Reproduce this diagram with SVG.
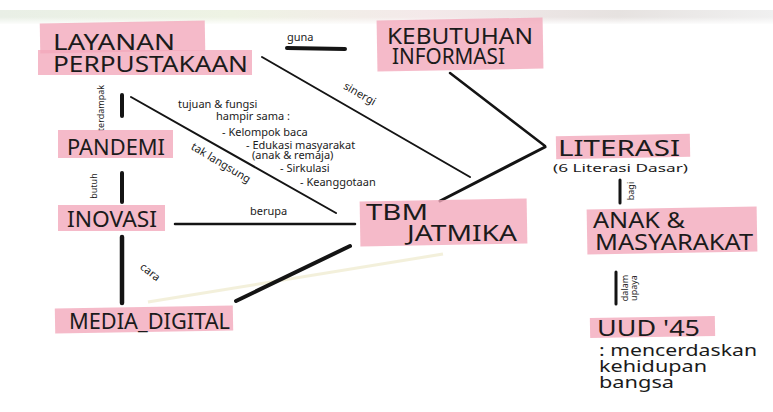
<svg xmlns="http://www.w3.org/2000/svg" width="773" height="412" viewBox="0 0 773 412">
<defs>
<linearGradient id="band" x1="0" y1="0" x2="1" y2="0">
<stop offset="0" stop-color="#e9efe6"/>
<stop offset="0.3" stop-color="#eef3e4"/>
<stop offset="0.55" stop-color="#f4e9ea"/>
<stop offset="0.8" stop-color="#e6e2e0"/>
<stop offset="1" stop-color="#f0f0f0"/>
</linearGradient>
<linearGradient id="fade" x1="0" y1="0" x2="0" y2="1">
<stop offset="0" stop-color="#fff" stop-opacity="0"/>
<stop offset="1" stop-color="#fff" stop-opacity="1"/>
</linearGradient>
</defs>
<style>
.hl{fill:#f2a9bb;opacity:0.8}
.cap{font-family:"Noto Sans","DejaVu Sans",sans-serif;fill:#1b1b1b;font-size:21px}
.sm{font-family:"Noto Sans","DejaVu Sans",sans-serif;fill:#1b1b1b;font-size:11px}
.tiny{font-family:"Noto Sans","DejaVu Sans",sans-serif;fill:#1b1b1b;font-size:9px}
.hand{font-family:"Noto Sans","DejaVu Sans",sans-serif;fill:#1b1b1b;font-size:16px}
.ln{stroke:#141414;fill:none;stroke-linecap:round}
</style>
<rect width="773" height="412" fill="#ffffff"/>
<rect x="0" y="10" width="773" height="14" fill="url(#band)"/>
<rect x="0" y="17" width="773" height="8" fill="url(#fade)"/>

<g id="connectors">
<line class="ln" x1="287" y1="48" x2="345" y2="49" stroke-width="4"/>
<line class="ln" x1="262" y1="57" x2="470" y2="177" stroke-width="2"/>
<line class="ln" x1="450" y1="73" x2="545" y2="146" stroke-width="2.5"/>
<line class="ln" x1="440" y1="201" x2="545" y2="147" stroke-width="3"/>
<line class="ln" x1="122" y1="95" x2="122" y2="116" stroke-width="4"/>
<line class="ln" x1="131" y1="97" x2="336" y2="213" stroke-width="2"/>
<line class="ln" x1="122" y1="173" x2="122" y2="202" stroke-width="4"/>
<line class="ln" x1="175" y1="224" x2="355" y2="224" stroke-width="2.5"/>
<line class="ln" x1="122" y1="237" x2="122" y2="303" stroke-width="4.5"/>
<line x1="148" y1="302" x2="443" y2="254" stroke="#ece7c4" stroke-width="3" opacity="0.6"/>
<line class="ln" x1="236" y1="301" x2="350" y2="246" stroke-width="4"/>
<line class="ln" x1="620" y1="180" x2="620" y2="203" stroke-width="3"/>
<line class="ln" x1="616" y1="272" x2="616" y2="304" stroke-width="3"/>
<text class="sm" x="287" y="41" font-size="13">guna</text>
<text class="sm" transform="translate(358,97) rotate(30)" text-anchor="middle">sinergi</text>
<text class="tiny" transform="translate(104,108) rotate(-90)" text-anchor="middle">terdampak</text>
<text class="tiny" transform="translate(97,186) rotate(-90)" text-anchor="middle" font-size="10">butuh</text>
<text class="sm" transform="translate(219,166) rotate(31)" text-anchor="middle">tak langsung</text>
<text class="sm" x="250" y="215" font-size="12.5">berupa</text>
<text class="sm" transform="translate(148,275) rotate(38)" text-anchor="middle" font-size="10">cara</text>
<text class="tiny" transform="translate(634,191) rotate(-90)" text-anchor="middle" font-size="8">bagi</text>
<text class="tiny" transform="translate(628,288) rotate(-90)" text-anchor="middle" font-size="7.5">dalam</text>
<text class="tiny" transform="translate(637,288) rotate(-90)" text-anchor="middle" font-size="7.5">upaya</text>
</g>

<g id="layanan">
<rect class="hl" x="40" y="22" width="165" height="30" transform="rotate(-1 120 37)"/>
<rect class="hl" x="38" y="50" width="214" height="25"/>
<text class="cap" x="53" y="50" font-size="23" textLength="122" lengthAdjust="spacingAndGlyphs">LAYANAN</text>
<text class="cap" x="53" y="72" font-size="23" textLength="195" lengthAdjust="spacingAndGlyphs">PERPUSTAKAAN</text>
</g>

<g id="kebutuhan">
<rect class="hl" x="377" y="19" width="166" height="51" transform="rotate(-1 460 44)"/>
<text class="cap" x="387" y="44" font-size="20" textLength="146" lengthAdjust="spacingAndGlyphs">KEBUTUHAN</text>
<text class="cap" x="392" y="64" font-size="20" textLength="113" lengthAdjust="spacingAndGlyphs">INFORMASI</text>
</g>

<g id="tujuan">
<text class="sm" x="178" y="108">tujuan &amp; fungsi</text>
<text class="sm" x="216" y="120">hampir sama :</text>
<text class="sm" x="222" y="136">- Kelompok baca</text>
<text class="sm" x="246" y="149">- Edukasi masyarakat</text>
<text class="sm" x="252" y="159" font-size="9">(anak &amp; remaja)</text>
<text class="sm" x="280" y="172">- Sirkulasi</text>
<text class="sm" x="300" y="186">- Keanggotaan</text>
</g>

<g id="pandemi">
<rect class="hl" x="58" y="130" width="115" height="28"/>
<text class="cap" x="67" y="155" textLength="98" lengthAdjust="spacingAndGlyphs">PANDEMI</text>
</g>

<g id="inovasi">
<rect class="hl" x="58" y="205" width="107" height="26"/>
<text class="cap" x="67" y="227" textLength="90" lengthAdjust="spacingAndGlyphs">INOVASI</text>
</g>

<g id="media-digital">
<rect class="hl" x="55" y="307" width="178" height="25" transform="rotate(-1 144 320)"/>
<text class="cap" x="69" y="329" font-size="17" textLength="161" lengthAdjust="spacingAndGlyphs">MEDIA_DIGITAL</text>
</g>

<g id="tbm">
<rect class="hl" x="360" y="200" width="167" height="45" transform="rotate(-1 443 222)"/>
<text class="cap" x="366" y="220" textLength="62" lengthAdjust="spacingAndGlyphs">TBM</text>
<text class="cap" x="407" y="241" textLength="110" lengthAdjust="spacingAndGlyphs">JATMIKA</text>
</g>

<g id="literasi">
<rect class="hl" x="556" y="135" width="134" height="23" transform="rotate(-1 623 146)"/>
<text class="cap" x="558" y="156" textLength="122" lengthAdjust="spacingAndGlyphs">LITERASI</text>
<text class="sm" x="553" y="172" font-size="12" textLength="135" lengthAdjust="spacingAndGlyphs">(6 Literasi Dasar)</text>
</g>

<g id="anak-masyarakat">
<rect class="hl" x="587" y="208" width="170" height="45" transform="rotate(-1 672 230)"/>
<text class="cap" x="593" y="228" font-size="19" textLength="92" lengthAdjust="spacingAndGlyphs">ANAK &amp;</text>
<text class="cap" x="595" y="250" font-size="19" textLength="158" lengthAdjust="spacingAndGlyphs">MASYARAKAT</text>
</g>

<g id="uud45">
<rect class="hl" x="590" y="317" width="125" height="20" transform="rotate(-1 652 327)"/>
<text class="cap" x="597" y="336" textLength="103" lengthAdjust="spacingAndGlyphs">UUD '45</text>
<text class="hand" x="599" y="356" textLength="158" lengthAdjust="spacingAndGlyphs">: mencerdaskan</text>
<text class="hand" x="599" y="372" textLength="108" lengthAdjust="spacingAndGlyphs">kehidupan</text>
<text class="hand" x="599" y="388" textLength="75" lengthAdjust="spacingAndGlyphs">bangsa</text>
</g>
</svg>
